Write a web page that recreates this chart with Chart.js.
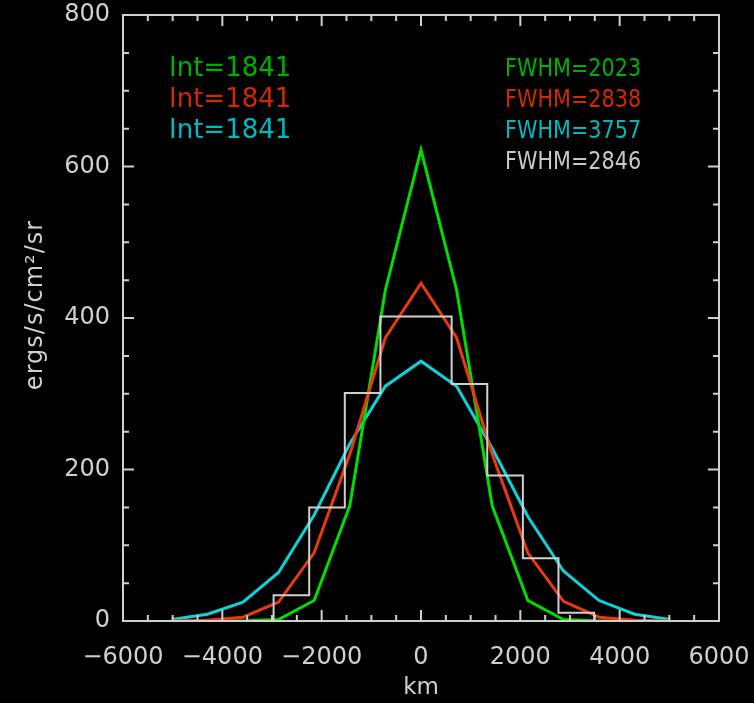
<!DOCTYPE html>
<html>
<head>
<meta charset="utf-8">
<script src="https://cdn.jsdelivr.net/npm/chart.js@4"></script>
<style>
  html, body { margin: 0; padding: 0; background: #000; }
  #wrap { width: 754px; height: 703px; }
</style>
</head>
<body>
<div id="wrap"><canvas id="chart"></canvas></div>
<script>
// positions along the slit, km (one point per pixel step)
const kmPoints = [-5019, -4302, -3585, -2868, -2151, -1434, -717, 0, 717, 1434, 2151, 2868, 3585, 4302, 5019];
const greenFit = [0, 0, 0, 2, 27, 152, 437, 622, 437, 152, 27, 2, 0, 0, 0];
const redFit = [0, 1, 5, 25, 90, 220, 374, 446, 374, 220, 90, 26, 5, 1, 0];
const cyanFit = [2, 9, 25, 64, 140, 234, 310, 343, 310, 228, 138, 66, 27, 9, 2];

// observed histogram: bin edges (km) and bin values
const binEdges = [-2968, -2251, -1534, -817, -100, 617, 1334, 2051, 2768, 3485];
const binValues = [34, 150, 301, 402, 402, 313, 192, 83, 11];

const intLabels = ['Int=1841', 'Int=1841', 'Int=1841'];
const fwhmLabels = ['FWHM=2023', 'FWHM=2838', 'FWHM=3757', 'FWHM=2846'];
const yTitle = 'ergs/s/cm\u00b2/sr';

const xTicks = [-6000, -4000, -2000, 0, 2000, 4000, 6000];
const yTicks = [0, 200, 400, 600, 800];

const GREEN = '#00dd00', RED = '#e83a10', CYAN = '#10d0d8', GREY = '#cfcfcf';
const textColors = ['#00b000', '#d02a00', '#00b8c0', '#c8c8c8'];

function pts(xs, ys) {
    return xs.map((x, i) => ({ x: x, y: ys[i] }));
}

// step outline of the histogram
const histPts = [];
binEdges.forEach((e, i) => {
    histPts.push({ x: e, y: i < binValues.length ? binValues[i] : 0 });
});
histPts.unshift({ x: binEdges[0], y: 0 });

// box with inward ticks on all four sides
const boxPlugin = {
    id: 'box',
    afterDatasetsDraw(chart) {
        const { ctx, chartArea: a, scales } = chart;
        ctx.save();
        ctx.strokeStyle = GREY;
        ctx.lineWidth = 2;
        ctx.strokeRect(a.left, a.top, a.right - a.left, a.bottom - a.top);
        ctx.beginPath();
        for (let v = -6000; v <= 6000; v += 500) {
            const px = scales.x.getPixelForValue(v);
            const len = v % 2000 === 0 ? 11 : 6;
            ctx.moveTo(px, a.bottom); ctx.lineTo(px, a.bottom - len);
            ctx.moveTo(px, a.top); ctx.lineTo(px, a.top + len);
        }
        for (let v = 0; v <= 800; v += 50) {
            const py = scales.y.getPixelForValue(v);
            const len = v % 200 === 0 ? 11 : 6;
            ctx.moveTo(a.left, py); ctx.lineTo(a.left + len, py);
            ctx.moveTo(a.right, py); ctx.lineTo(a.right - len, py);
        }
        ctx.stroke();

        // annotations
        ctx.textBaseline = 'middle';
        ctx.textAlign = 'left';
        ctx.font = '26px "DejaVu Sans"';
        intLabels.forEach((t, i) => {
            ctx.fillStyle = textColors[i];
            ctx.fillText(t, 169, 69 + i * 31);
        });
        ctx.font = '25px "DejaVu Sans"';
        fwhmLabels.forEach((t, i) => {
            ctx.save();
            ctx.translate(505, 69 + i * 31);
            ctx.scale(0.83, 1);
            ctx.fillStyle = textColors[i];
            ctx.fillText(t, 0, 0);
            ctx.restore();
        });

        // y axis title
        ctx.save();
        ctx.translate(36, 305);
        ctx.rotate(-Math.PI / 2);
        ctx.textAlign = 'center';
        ctx.font = '24px "DejaVu Sans"';
        ctx.letterSpacing = '1px';
        ctx.fillStyle = GREY;
        ctx.fillText(yTitle, 0, 0);
        ctx.restore();
        ctx.restore();
    }
};

new Chart(document.getElementById('chart'), {
    type: 'scatter',
    data: {
        datasets: [
            { data: histPts, borderColor: GREY, borderWidth: 2, stepped: 'before', showLine: true, pointRadius: 0 },
            { data: pts(kmPoints, redFit), borderColor: RED, borderWidth: 3, showLine: true, pointRadius: 0 },
            { data: pts(kmPoints, greenFit), borderColor: GREEN, borderWidth: 3, showLine: true, pointRadius: 0 },
            { data: pts(kmPoints, cyanFit), borderColor: CYAN, borderWidth: 3, showLine: true, pointRadius: 0 }
        ]
    },
    options: {
        responsive: true,
        maintainAspectRatio: false,
        animation: false,
        layout: { padding: { left: 0, right: 35, top: 15, bottom: 0 } },
        plugins: { legend: { display: false }, tooltip: { enabled: false } },
        scales: {
            x: {
                type: 'linear', min: -6000, max: 6000,
                afterBuildTicks: s => { s.ticks = xTicks.map(v => ({ value: v })); },
                afterFit: s => { s.height = 82; s.paddingLeft = 0; s.paddingRight = 0; },
                grid: { display: false, drawTicks: false },
                border: { display: false },
                ticks: {
                    color: GREY, padding: 22, maxRotation: 0, autoSkip: false,
                    font: { family: 'DejaVu Sans', size: 24 },
                    callback: v => (v < 0 ? '\u2212' + Math.abs(v) : String(v))
                },
                title: {
                    display: true, text: 'km', color: GREY, padding: { top: 0, bottom: 1 },
                    font: { family: 'DejaVu Sans', size: 23 }
                }
            },
            y: {
                min: 0, max: 800,
                afterBuildTicks: s => { s.ticks = yTicks.map(v => ({ value: v })); },
                afterFit: s => { s.width = 123; s.paddingTop = 0; s.paddingBottom = 0; },
                grid: { display: false, drawTicks: false },
                border: { display: false },
                ticks: {
                    color: GREY, padding: 13,
                    font: { family: 'DejaVu Sans', size: 24 }
                }
            }
        }
    },
    plugins: [boxPlugin]
});
</script>
</body>
</html>
